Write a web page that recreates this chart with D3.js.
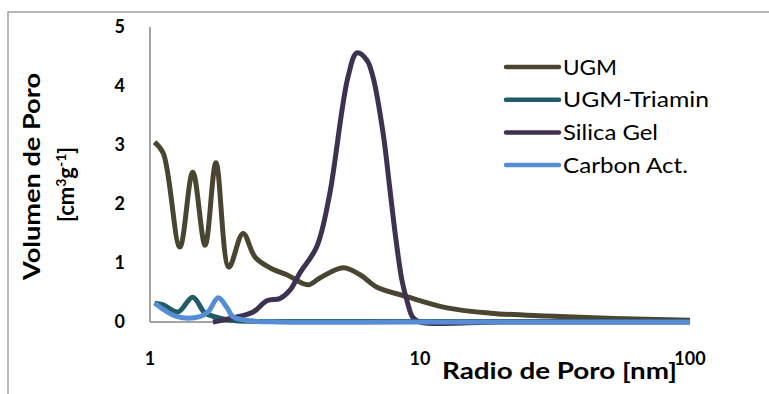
<!DOCTYPE html>
<html>
<head>
<meta charset="utf-8">
<script src="https://cdn.jsdelivr.net/npm/d3@7"></script>
<style>
  body { margin: 0; background: #fff; }
  svg { display: block; }
</style>
</head>
<body>
<svg id="chart" width="769" height="394"></svg>
<script>
// data (radius nm, volume cm3/g)
const ugmR = [1.04, 1.12, 1.29, 1.44, 1.6, 1.755, 1.96, 2.21, 2.45, 2.78, 3.21, 3.85, 4.27, 5.19, 6.0, 6.93, 8.94, 12.6, 18.2, 29.5, 52, 100]
const ugmV = [3.05, 2.86, 1.27, 2.54, 1.3, 2.7, 0.93, 1.5, 1.1, 0.92, 0.8, 0.63, 0.75, 0.92, 0.8, 0.59, 0.43, 0.24, 0.15, 0.1, 0.06, 0.03]

const triR = [1.04, 1.12, 1.27, 1.44, 1.6, 1.77, 1.98, 2.5, 5, 20, 100]
const triV = [0.32, 0.29, 0.17, 0.42, 0.15, 0.08, 0.03, 0.01, 0.01, 0.01, 0.01]

const silR = [1.71, 2.03, 2.41, 2.71, 3.03, 3.3, 3.59, 4.14, 4.6, 5.41, 5.84, 6.35, 6.7, 7.3, 7.74, 8.15, 8.57, 9.0, 9.4, 10, 20, 50, 100]
const silV = [0, 0.07, 0.17, 0.36, 0.4, 0.54, 0.83, 1.27, 2.1, 4.15, 4.56, 4.44, 4.15, 3.2, 2.24, 1.39, 0.71, 0.32, 0.08, 0, 0, 0, 0]

const carR = [1.04, 1.26, 1.53, 1.64, 1.79, 1.93, 2.03, 2.35, 3, 10, 100]
const carV = [0.32, 0.09, 0.09, 0.17, 0.41, 0.24, 0.09, 0.02, 0, 0, 0]

const names = ["UGM", "UGM-Triamin", "Silica Gel", "Carbon Act."]
const colors = ["#4a4530", "#215b68", "#3f3151", "#558ed5"]
const yTicks = [0, 1, 2, 3, 4, 5]
const xTicks = [1, 10, 100]

const series = [[ugmR, ugmV], [triR, triV], [silR, silV], [carR, carV]]

const svg = d3.select("#chart")

// outer frame (only top and left visible)
svg.append("rect").attr("x", 8).attr("y", 12).attr("width", 800).attr("height", 420)
  .attr("fill", "none").attr("stroke", "#a0a0a0").attr("stroke-width", 1.5)

const x = d3.scaleLog().domain([1, 100]).range([150, 690])
const y = d3.scaleLinear().domain([0, 5]).range([322, 27])

// axes lines
svg.append("line").attr("x1", 150).attr("x2", 150).attr("y1", y(5)).attr("y2", y(0))
  .attr("stroke", "#868686").attr("stroke-width", 1.5)
svg.append("line").attr("x1", 150).attr("x2", 690).attr("y1", y(0)).attr("y2", y(0))
  .attr("stroke", "#868686").attr("stroke-width", 1.5)

svg.selectAll(".ytick").data(yTicks).join("text")
  .attr("x", 125).attr("y", d => y(d)).attr("dy", "0.35em")
  .attr("text-anchor", "end")
  .style("font-family", "Lato").style("font-weight", "bold").style("font-size", "18px")
  .text(d => d)

svg.selectAll(".xtick").data(xTicks).join("text")
  .attr("x", d => x(d)).attr("y", 359).attr("dy", "0.35em")
  .attr("text-anchor", "middle")
  .style("font-family", "Lato").style("font-weight", "bold").style("font-size", "18px")
  .text(d => d)

// axis titles
svg.append("text").attr("x", 442).attr("y", 371).attr("dy", "0.35em")
  .attr("textLength", 235).attr("lengthAdjust", "spacingAndGlyphs")
  .style("font-family", "Lato").style("font-weight", "bold").style("font-size", "22px")
  .text("Radio de Poro [nm]")

svg.append("text").attr("transform", "translate(32,280) rotate(-90)")
  .attr("dy", "0.35em")
  .attr("textLength", 207).attr("lengthAdjust", "spacingAndGlyphs")
  .style("font-family", "Lato").style("font-weight", "bold").style("font-size", "22px")
  .text("Volumen de Poro")

const t2 = svg.append("text").attr("transform", "translate(74,222) rotate(-90)")
  .style("font-family", "Lato").style("font-weight", "bold")
t2.append("tspan").style("font-size", "22px").text("[cm")
t2.append("tspan").attr("dy", -8).style("font-size", "14px").text("3")
t2.append("tspan").attr("dy", 8).style("font-size", "22px").text("g")
t2.append("tspan").attr("dy", -8).style("font-size", "14px").text("-1")
t2.append("tspan").attr("dy", 8).style("font-size", "22px").text("]")

const line = d3.line().x(d => x(d[0])).y(d => y(d[1])).curve(d3.curveCatmullRom)

series.forEach(function(s, i) {
  const pts = s[0].map((r, j) => [r, s[1][j]])
  svg.append("path").datum(pts)
    .attr("d", line)
    .attr("fill", "none")
    .attr("stroke", colors[i])
    .attr("stroke-width", 5)
    .attr("stroke-linejoin", "round")
})

// legend
const legendLen = [54, 146, 95, 125]
names.forEach(function(n, i) {
  const ly = 67 + i * 32.7
  svg.append("line").attr("x1", 506).attr("x2", 559).attr("y1", ly).attr("y2", ly)
    .attr("stroke", colors[i]).attr("stroke-width", 4.5).attr("stroke-linecap", "round")
  svg.append("text").attr("x", 563).attr("y", ly).attr("dy", "0.35em")
    .attr("textLength", legendLen[i]).attr("lengthAdjust", "spacingAndGlyphs")
    .style("font-family", "Lato").style("font-size", "22px").text(n)
})
</script>
</body>
</html>
